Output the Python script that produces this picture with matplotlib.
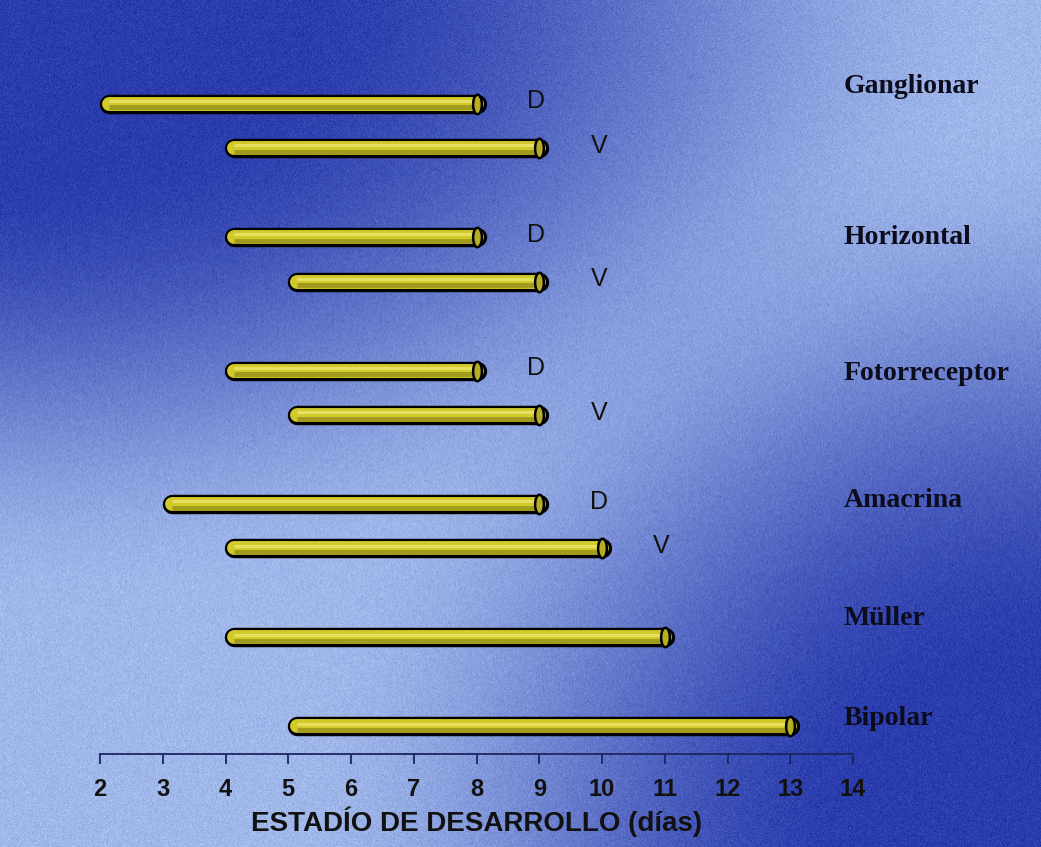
import numpy as np
import matplotlib
matplotlib.use("Agg")
import matplotlib.pyplot as plt

# cell types, in top-to-bottom order
cell_types = ["Ganglionar", "Horizontal", "Fotorreceptor", "Amacrina", "Müller", "Bipolar"]

# one bar per row: (cell type index, region tag, first day, last day)
bar_type = [0, 0, 1, 1, 2, 2, 3, 3, 4, 5]
bar_tag = ["D", "V", "D", "V", "D", "V", "D", "V", "", ""]
bar_start = [2, 4, 4, 5, 4, 5, 3, 4, 4, 5]
bar_end = [8, 9, 8, 9, 8, 9, 9, 10, 11, 13]

x_ticks = list(range(2, 15))

# vertical layout of the rows and of the cell type names
row_y = [14.62, 13.62, 11.62, 10.62, 8.62, 7.62, 5.62, 4.62, 2.62, 0.62]
name_y = [15.0, 11.62, 8.55, 5.7, 3.05, 0.8]

W, H = 1041, 847
fig = plt.figure(figsize=(W / 100, H / 100), dpi=100)


def smoothstep(a, b, v):
    k = np.clip((v - a) / (b - a), 0, 1)
    return k * k * (3 - 2 * k)


# background: light blue, darkening toward the upper-left and lower-right corners
bg = fig.add_axes([0, 0, 1, 1])
xx, tt = np.meshgrid(np.linspace(0, 1, W), np.linspace(0, 1, H))
e_tl = np.hypot(xx / 0.62, tt / 0.45)
e_br = np.hypot((1 - xx) / 0.5, (1 - tt) / 0.6)
f_tl = 1 - smoothstep(0.45, 1.6, e_tl)
f_br = 1 - smoothstep(0.35, 1.45, e_br)
f = 1 - (1 - f_tl) * (1 - f_br)
light = np.array([0.63, 0.72, 0.92])
dark = np.array([0.17, 0.24, 0.68])
img = light[None, None, :] * (1 - f[..., None]) + dark[None, None, :] * f[..., None]
grain = np.random.default_rng(7).normal(0, 0.035, (H, W, 1))
img = np.clip(img + grain * np.array([0.8, 0.8, 0.6]), 0, 1)
bg.imshow(img, aspect="auto", extent=[0, 1, 0, 1], interpolation="bilinear")
bg.set_axis_off()

ax = fig.add_axes([100 / W, 93 / H, 753 / W, 694 / H])
ax.set_facecolor("none")
ax.set_xlim(2, 14)
ax.set_ylim(0, 15.6)

# elliptical end face of the cylinders
th = np.linspace(0, 2 * np.pi, 40)
cap = list(zip(0.45 * np.cos(th), np.sin(th)))
r = 0.14  # half the bar height, in days

for i in range(len(bar_start)):
    s, e, y = bar_start[i], bar_end[i], row_y[i]
    ax.plot([s + r, e], [y, y], color="black", lw=14, solid_capstyle="round",
            zorder=3, clip_on=False)
    ax.plot([s + r, e], [y, y], color="#d2ca2a", lw=10, solid_capstyle="round",
            zorder=4, clip_on=False)
    ax.plot([s + r, e], [y - 0.085, y - 0.085], color="#a29a1c", lw=3.5,
            solid_capstyle="butt", zorder=5)
    ax.plot([s + r, e], [y + 0.06, y + 0.06], color="#e6e060", lw=2.2,
            solid_capstyle="butt", zorder=5)
    ax.plot([e], [y], marker=cap, markersize=14, markerfacecolor="#b6ae22",
            markeredgecolor="black", markeredgewidth=1.8, zorder=6)
    if bar_tag[i]:
        ax.text(e + 0.95, y + 0.05, bar_tag[i], ha="center", va="center",
                fontsize=18, family="Liberation Sans", color="#111111", zorder=7)

for name, y in zip(cell_types, name_y):
    ax.text(13.85, y, name, ha="left", va="center", fontsize=20,
            family="Liberation Serif", fontweight="bold", color="#0c0c1c",
            clip_on=False)

for side in ["top", "right", "left"]:
    ax.spines[side].set_visible(False)
ax.spines["bottom"].set_color("#1c2660")
ax.spines["bottom"].set_linewidth(1.3)
ax.set_yticks([])
ax.set_xticks(x_ticks)
ax.set_xticklabels([str(v) for v in x_ticks], fontsize=17,
                   family="Liberation Sans", fontweight="bold", color="#111111")
ax.tick_params(axis="x", direction="out", length=7, width=1.3, color="#1c2660", pad=10)
ax.set_xlabel("ESTADÍO DE DESARROLLO (días)", fontsize=20, family="Liberation Sans",
              fontweight="bold", color="#111111", labelpad=4)

fig.savefig("out.png", dpi=100)
